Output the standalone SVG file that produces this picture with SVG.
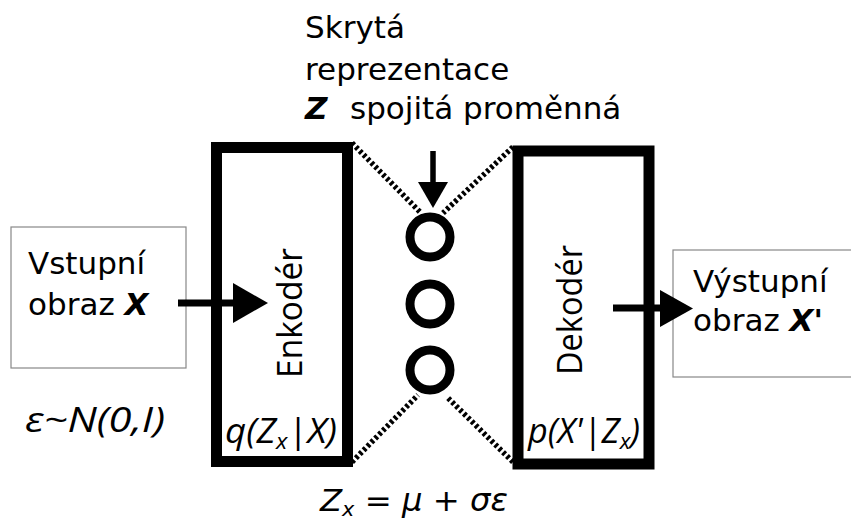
<svg xmlns="http://www.w3.org/2000/svg" width="851" height="522" viewBox="0 0 851 522">
<style>
.t{font-family:"DejaVu Sans",Verdana,sans-serif;font-size:31px;fill:#000}
.bi{font-weight:bold;font-style:italic}
.o{font-family:"Open Sans","Noto Sans",sans-serif;font-size:34px;fill:#000}
.oi{font-family:"Open Sans","Noto Sans",sans-serif;font-size:34px;font-style:italic;fill:#000}
.box{fill:#fff;stroke:#888;stroke-width:1.2}
.blk{fill:none;stroke:#000;stroke-width:11}
.dot{stroke:#000;stroke-width:5.5;stroke-dasharray:3 2.5;fill:none}
.ring{fill:none;stroke:#000;stroke-width:9}
</style>
<rect width="851" height="522" fill="#fff"/>
<g id="input">
<rect class="box" x="11" y="227" width="175" height="141"/>
<text class="t" x="28" y="274">Vstupní</text>
<text class="t" x="28" y="315">obraz <tspan class="bi">X</tspan></text>
</g>
<g id="output">
<rect class="box" x="673" y="250" width="190" height="127"/>
<text class="t" x="693" y="292">Výstupní</text>
<text class="t" x="693" y="331">obraz <tspan class="bi">X'</tspan></text>
</g>
<g id="encoder">
<rect class="blk" x="216.5" y="147.5" width="131" height="314"/>
<text class="o" transform="translate(302,313) rotate(-90)" text-anchor="middle" textLength="130" lengthAdjust="spacingAndGlyphs">Enkodér</text>
<text class="oi" x="225" y="443" textLength="112" lengthAdjust="spacingAndGlyphs">q(Z<tspan font-size="22" dy="6">x</tspan><tspan dy="-6">|X)</tspan></text>
</g>
<g id="decoder">
<rect class="blk" x="518" y="151" width="131" height="313"/>
<text class="o" transform="translate(582,310) rotate(-90)" text-anchor="middle" textLength="130" lengthAdjust="spacingAndGlyphs">Dekodér</text>
<text class="oi" x="528" y="443" textLength="112" lengthAdjust="spacingAndGlyphs">p(X'|Z<tspan font-size="22" dy="6">x</tspan><tspan dy="-6">)</tspan></text>
</g>
<g id="latent">
<text class="t" x="305" y="38">Skrytá</text>
<text class="t" x="305" y="80">reprezentace</text>
<text class="t" x="305" y="119"><tspan class="bi">Z</tspan><tspan x="350">spojitá proměnná</tspan></text>
<circle class="ring" cx="430" cy="237" r="20"/>
<circle class="ring" cx="430" cy="304" r="20"/>
<circle class="ring" cx="430" cy="370" r="20"/>
</g>
<g id="labels">
<text class="oi" x="25" y="432" font-size="36" textLength="140" lengthAdjust="spacingAndGlyphs">ε~N(0,I)</text>
<text class="t" x="320" y="511" font-style="italic" textLength="188" lengthAdjust="spacingAndGlyphs">Z<tspan font-size="20" dy="5">x</tspan><tspan dy="-5"> = μ + σε</tspan></text>
</g>
<g id="connectors">
<line class="dot" x1="352" y1="143" x2="420" y2="212"/>
<line class="dot" x1="513" y1="147" x2="443" y2="213"/>
<line class="dot" x1="352" y1="462" x2="418" y2="395"/>
<line class="dot" x1="513" y1="462" x2="447" y2="397"/>
<line x1="178" y1="303" x2="234" y2="303" stroke="#000" stroke-width="7"/>
<polygon points="233,283 268,303 233,323" fill="#000"/>
<line x1="613" y1="308" x2="661" y2="308" stroke="#000" stroke-width="7"/>
<polygon points="660,290 693,308.5 660,327" fill="#000"/>
<line x1="433" y1="151" x2="433" y2="183" stroke="#000" stroke-width="5.5"/>
<polygon points="418,182 448,182 433,208" fill="#000"/>
</g>
</svg>
